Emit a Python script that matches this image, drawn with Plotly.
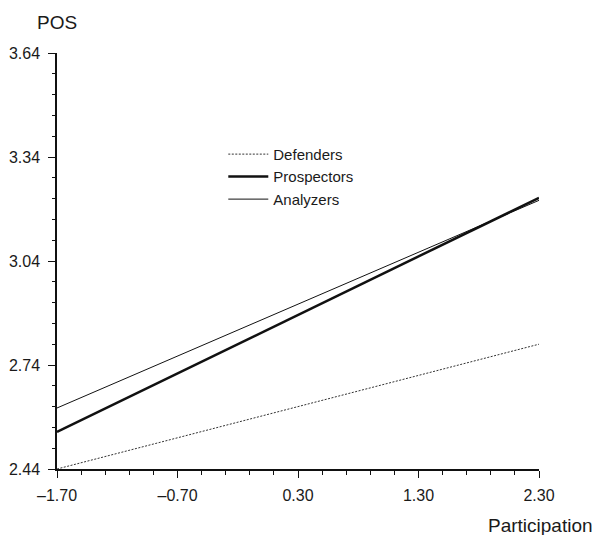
import plotly.graph_objects as go

# Data
x_vals = [-1.70, 2.30]
defenders = [2.44, 2.80]
prospectors = [2.547, 3.222]
analyzers = [2.616, 3.215]

x_ticks = [-1.70, -0.70, 0.30, 1.30, 2.30]
x_ticklabels = ["\u20131.70", "\u20130.70", "0.30", "1.30", "2.30"]
y_ticks = [2.44, 2.74, 3.04, 3.34, 3.64]
y_ticklabels = ["2.44", "2.74", "3.04", "3.34", "3.64"]

FONT = "Liberation Sans, Arial, sans-serif"
TXT = "#1a1a1a"

fig = go.Figure()
fig.add_trace(go.Scatter(x=x_vals, y=defenders, mode="lines", name="Defenders",
                         line=dict(color="#333333", width=1, dash="2px,1.5px")))
fig.add_trace(go.Scatter(x=x_vals, y=prospectors, mode="lines", name="Prospectors",
                         line=dict(color="#111111", width=2.5)))
fig.add_trace(go.Scatter(x=x_vals, y=analyzers, mode="lines", name="Analyzers",
                         line=dict(color="#111111", width=1)))

fig.update_layout(
    width=597, height=535,
    margin=dict(l=57, r=58, t=53, b=66, autoexpand=False),
    plot_bgcolor="white", paper_bgcolor="white",
    font=dict(family=FONT, size=16, color=TXT),
    showlegend=True,
    legend=dict(x=0.345, y=0.796, xanchor="left", yanchor="top",
                bgcolor="rgba(0,0,0,0)", font=dict(size=15, family=FONT, color=TXT),
                itemwidth=40),
    xaxis=dict(range=[-1.70, 2.30], tickvals=x_ticks, ticktext=x_ticklabels,
               automargin=False,
               showgrid=False, zeroline=False, showline=True, linecolor="#111111", linewidth=1.5,
               ticks="outside", ticklen=7, tickwidth=1.2, tickcolor="#111111",
               ticklabelstandoff=4, tickfont=dict(size=16),
               minor=dict(tick0=-1.70, dtick=0.2, ticks="outside", ticklen=4,
                          tickcolor="#111111", tickwidth=1, showgrid=False)),
    yaxis=dict(range=[2.44, 3.64], tickvals=y_ticks, ticktext=y_ticklabels,
               automargin=False,
               showgrid=False, zeroline=False, showline=True, linecolor="#111111", linewidth=1.5,
               ticks="outside", ticklen=7, tickwidth=1.2, tickcolor="#111111",
               ticklabelstandoff=5, tickfont=dict(size=16),
               minor=dict(tick0=2.44, dtick=0.06, ticks="outside", ticklen=3,
                          tickcolor="#111111", tickwidth=1, showgrid=False)),
    annotations=[
        dict(text="POS", xref="paper", yref="paper", x=0.0, y=1.0, yshift=31,
             xanchor="center", yanchor="middle", showarrow=False,
             font=dict(size=19, family=FONT, color=TXT)),
        dict(text="Participation", xref="paper", yref="paper", x=1.0, xshift=56,
             y=0, yshift=-56, xanchor="right", yanchor="middle", showarrow=False,
             font=dict(size=19, family=FONT, color=TXT)),
    ],
)

fig.write_html(
    "out.html",
    config={"displayModeBar": False},
    post_script="document.body.style.margin='0';document.body.style.overflow='hidden';",
)
